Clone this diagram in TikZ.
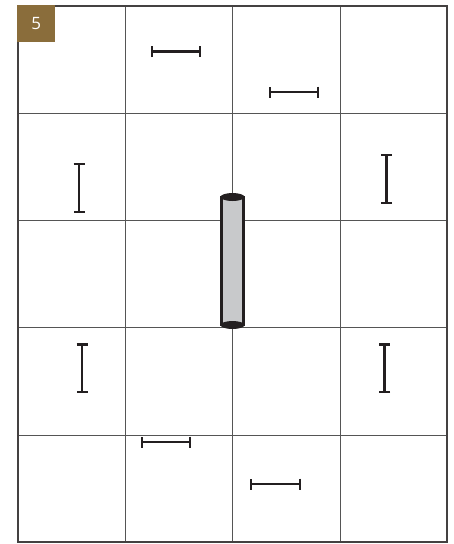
\documentclass[tikz,border=0pt]{standalone}
\usepackage{fontspec}
\setsansfont{Open Sans}
\usetikzlibrary{arrows.meta}
\definecolor{ink}{HTML}{231F20}
\definecolor{gridc}{HTML}{555555}
\definecolor{badgec}{HTML}{8A6D3B}
\definecolor{rodc}{HTML}{C8C9CB}
\tikzset{
  gridline/.style={draw=gridc, line width=0.9pt},
  frame/.style={draw=ink!85, line width=1.4pt},
  ibeam/.style={draw=ink, line width=2.7pt, {Bar[width=11pt,line width=2.6pt]}-{Bar[width=11pt,line width=2.6pt]}, shorten <=-1.3pt, shorten >=-1.3pt},
  badge/.style={fill=badgec, draw=none, minimum width=38pt, minimum height=37pt, inner sep=0pt, text=white, font=\sffamily\fontsize{17}{17}\selectfont},
}
\begin{document}
\begin{tikzpicture}[x=1pt,y=-1pt]
\useasboundingbox (0,0) rectangle (454,544);
% grid
\foreach \x in {125,232,340} \draw[gridline] (\x,6) -- (\x,542);
\foreach \y in {113,220,327,435} \draw[gridline] (18,\y) -- (447,\y);
\draw[frame] (18,6) rectangle (447,542);
% badge
\node[badge, anchor=north west] (badge) at (17,5) {5};
% rod
\coordinate (rodtop) at (232.5,197);
\coordinate (rodbot) at (232.5,325);
\draw[ink, line width=2.8pt, fill=rodc] (221.5,197) rectangle (243.5,325);
\fill[ink] (rodtop) ellipse [x radius=12pt, y radius=4pt];
\fill[ink] (rodbot) ellipse [x radius=12pt, y radius=4pt];
% I-beam markers
\coordinate (a1) at (152,51.5); \coordinate (a2) at (200,51.5);
\coordinate (b1) at (270,92); \coordinate (b2) at (318,92);
\coordinate (c1) at (79,164); \coordinate (c2) at (79,212);
\coordinate (d1) at (386.5,155); \coordinate (d2) at (386.5,203);
\coordinate (e1) at (82,344.5); \coordinate (e2) at (82,392);
\coordinate (f1) at (384.5,344.5); \coordinate (f2) at (384.5,392);
\coordinate (g1) at (142,442); \coordinate (g2) at (190,442);
\coordinate (h1) at (251,484); \coordinate (h2) at (300,484);
\foreach \p in {a,b,c,d,e,f,g,h} \draw[ibeam] (\p1) -- (\p2);
\end{tikzpicture}
\end{document}
